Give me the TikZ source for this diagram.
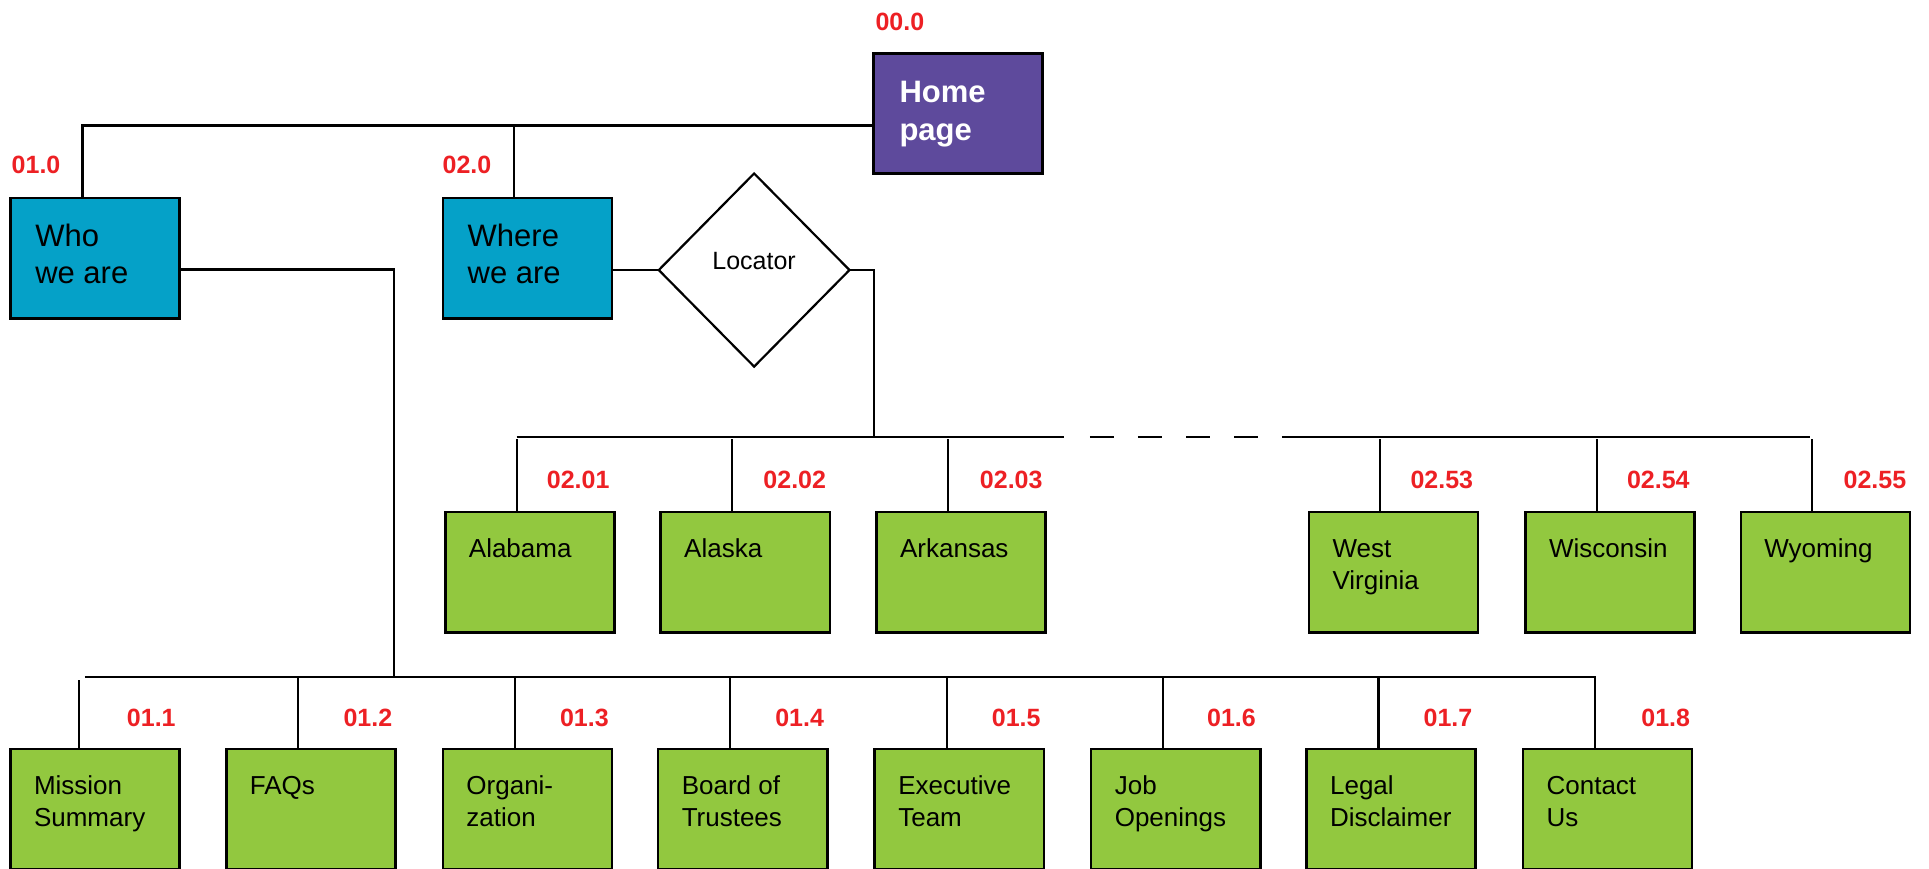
\documentclass[tikz,border=0pt]{standalone}
\usepackage{fontspec}
\setmainfont{Liberation Sans}
\usetikzlibrary{shapes.geometric,calc}
\newlength\uu \setlength\uu{1.2302pt}
\definecolor{homepurple}{RGB}{94,74,156}
\definecolor{navblue}{RGB}{5,161,200}
\definecolor{leafgreen}{RGB}{146,200,63}
\definecolor{idred}{RGB}{237,32,36}
\newcommand\leafbox[4]{%
  \node[leaf] (#1) at (#2,#3) {};
  \node[leaftxt] (#1t) at ($(#1.north west)+(19,18.6)$) {\strut #4};}
\begin{document}
\begin{tikzpicture}[x=1.2302pt,y=-1.2302pt,
  boxbase/.style={draw=black, line width=2.5pt, anchor=north west, minimum width=137.5\uu, minimum height=98\uu, inner sep=0pt, outer sep=0pt},
  leaf/.style={boxbase, fill=leafgreen},
  navbox/.style={boxbase, fill=navblue},
  homebox/.style={boxbase, fill=homepurple, line width=3pt},
  leaftxt/.style={anchor=north west, inner sep=0pt, align=left, font=\fontsize{26}{32}\selectfont},
  navtxt/.style={anchor=north west, inner sep=0pt, align=left, font=\fontsize{31}{36.7}\selectfont},
  hometxt/.style={anchor=north west, inner sep=0pt, align=left, text=white, font=\bfseries\fontsize{31}{38.3}\selectfont},
  locator/.style={draw=black, line width=2.2pt, fill=white, diamond, minimum width=155\uu, minimum height=157\uu, inner sep=0pt, outer sep=0pt},
  loctxt/.style={inner sep=0pt, font=\fontsize{25}{30}\selectfont},
  idlab/.style={anchor=base, inner sep=0pt, text=idred, font=\bfseries\fontsize{25}{30}\selectfont},
  conn/.style={draw=black, line width=2.2pt},
  gapline/.style={conn, dash pattern=on 24pt off 24pt}
]
\useasboundingbox (0,0) rectangle (1568,706);
\clip (0,0) rectangle (1568,706);
\fill[white] (0,0) rectangle (1568,706);

% top level
\node[homebox] (home) at (710,43.4) {};
\node[hometxt] (homet) at ($(home.north west)+(21,17.6)$) {\strut Home\\page};
\node[navbox] (who) at (8.5,161) {};
\node[navtxt] (whot) at ($(who.north west)+(20,18.4)$) {\strut Who\\we are};
\node[navbox] (where) at (360,161) {};
\node[navtxt] (wheret) at ($(where.north west)+(20,18.4)$) {\strut Where\\we are};
\node[locator] (loc) at (613,219.5) {};
\node[loctxt, anchor=base] (loct) at (613,219) {Locator};

% ids top
\node[idlab] (id00) at (731.5,24.4) {00.0};
\node[idlab] (id01) at (29.3,141.4) {01.0};
\node[idlab] (id02) at (379.6,141.4) {02.0};

% connectors top
\coordinate (tj) at (67,102);
\coordinate (wj) at (418,102);
\draw[conn] (home.west |- tj) -- (tj) -- (tj |- who.north);
\draw[conn] (wj) -- (wj |- where.north);
\coordinate (wr) at (320,219);
\coordinate (bj) at (320,550);
\draw[conn] (who.east |- wr) -- (wr) -- (bj);
\draw[conn] (where.east |- loc.west) -- (loc.west);
\coordinate (sj) at (710.3,355.5);
\draw[conn] (loc.east) -- (loc.east -| sj) -- (sj);

% states
\leafbox{al}{362}{416.2}{Alabama}
\leafbox{ak}{537}{416.2}{Alaska}
\leafbox{ar}{712.5}{416.2}{Arkansas}
\leafbox{wv}{1064}{416.2}{West\\Virginia}
\leafbox{wi}{1240}{416.2}{Wisconsin}
\leafbox{wy}{1415}{416.2}{Wyoming}

\draw[conn] (420,355.5) -- (865,355.5);
\draw[gapline] (886,355.5) -- (1023,355.5);
\draw[conn] (1042,355.5) -- (1471,355.5);
\foreach \b in {al,ak,ar,wv,wi,wy}{
  \draw[conn] (\b.north west) ++(58,0) -- ++(0,-59);
}
\node[idlab] (id0201) at (470,397.2) {02.01};
\node[idlab] (id0202) at (646,397.2) {02.02};
\node[idlab] (id0203) at (822,397.2) {02.03};
\node[idlab] (id0253) at (1172,397.2) {02.53};
\node[idlab] (id0254) at (1348,397.2) {02.54};
\node[idlab] (id0255) at (1524,397.2) {02.55};

% who we are children
\leafbox{b1}{8.5}{608.8}{Mission\\Summary}
\leafbox{b2}{184}{608.8}{FAQs}
\leafbox{b3}{360}{608.8}{Organi-\\zation}
\leafbox{b4}{535}{608.8}{Board of\\Trustees}
\leafbox{b5}{711}{608.8}{Executive\\Team}
\leafbox{b6}{887}{608.8}{Job\\Openings}
\leafbox{b7}{1062}{608.8}{Legal\\Disclaimer}
\leafbox{b8}{1238}{608.8}{Contact\\Us}

\draw[conn] (69,550) -- (1297,550);
\draw[conn] (b1.north west) ++(56,0) -- ++(0,-56);
\foreach \b in {b2,b3,b4,b5,b6,b7,b8}{
  \draw[conn] (\b.north west) ++(58.5,0) -- ++(0,-58.8);
}
\node[idlab] (id11) at (123,590.2) {01.1};
\node[idlab] (id12) at (299,590.2) {01.2};
\node[idlab] (id13) at (475,590.2) {01.3};
\node[idlab] (id14) at (650,590.2) {01.4};
\node[idlab] (id15) at (826,590.2) {01.5};
\node[idlab] (id16) at (1001,590.2) {01.6};
\node[idlab] (id17) at (1177,590.2) {01.7};
\node[idlab] (id18) at (1354,590.2) {01.8};
\end{tikzpicture}
\end{document}
